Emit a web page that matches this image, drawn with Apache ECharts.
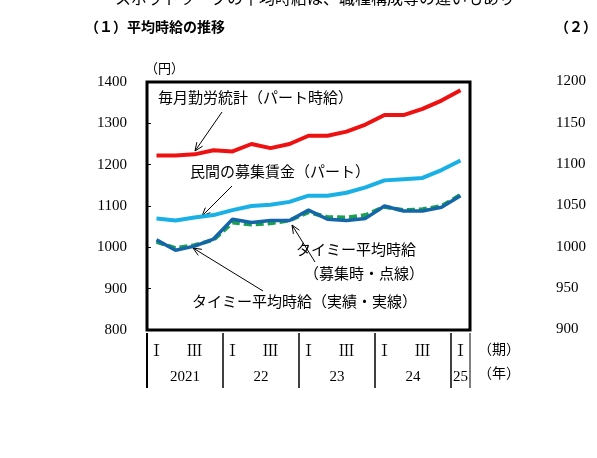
<!DOCTYPE html><html><head><meta charset="utf-8"><script src="https://cdn.jsdelivr.net/npm/echarts@6/dist/echarts.min.js"></script>
<style>body{margin:0;background:#fff}#c{width:597px;height:458px}</style></head><body><div id="c"></div><script>
const categories=['Ⅰ','Ⅱ','Ⅲ','Ⅳ','Ⅰ','Ⅱ','Ⅲ','Ⅳ','Ⅰ','Ⅱ','Ⅲ','Ⅳ','Ⅰ','Ⅱ','Ⅲ','Ⅳ','Ⅰ'];
const years=['2021','22','23','24','25'];
const yearStarts=[0,4,8,12,16];
const maikin=[1222,1222,1225,1235,1232,1250,1240,1250,1270,1270,1280,1297,1320,1320,1335,1355,1380];
const boshu=[1070,1065,1072,1078,1090,1100,1103,1110,1125,1125,1132,1145,1162,1165,1168,1187,1210];
const timeeJisseki=[1018,993,1003,1020,1068,1060,1065,1065,1090,1068,1065,1070,1100,1088,1088,1097,1125];
const timeeBoshu=[1013,998,1005,1018,1060,1055,1058,1065,1085,1073,1072,1078,1098,1090,1092,1100,1127];
const rightTicks=['1200','1150','1100','1050','1000','950','900'];
const F='"Noto Sans CJK JP"',S='"Liberation Serif","Noto Serif CJK JP",serif';
const ch=echarts.init(document.getElementById('c'));
const g=[];
g.push({type:'text',left:115,top:-10,style:{text:'スポットワークの平均時給は、職種構成等の違いもあり',font:'16px '+F,fill:'#000'}});
g.push({type:'text',left:85,top:20,style:{text:'（１）平均時給の推移',font:'bold 14px '+F,fill:'#000'}});
g.push({type:'text',left:555,top:20,style:{text:'（２）',font:'bold 14px '+F,fill:'#000'}});
g.push({type:'text',left:145,top:62,style:{text:'（円）',font:'13px '+F,fill:'#000'}});
rightTicks.forEach((t,i)=>g.push({type:'text',left:556,top:74+i*41.3,style:{text:t,font:'15px '+S,fill:'#000'}}));
const ann=[[158,90,'毎月勤労統計（パート時給）'],[190,164,'民間の募集賃金（パート）'],[296,242,'タイミー平均時給'],[304,266,'（募集時・点線）'],[192,294,'タイミー平均時給（実績・実線）']];
ann.forEach(a=>g.push({type:'text',left:a[0],top:a[1],style:{text:a[2],font:'15px '+F,fill:'#000'}}));
const arrows=[[222,112,195,151],[232,186,202,216],[315,262,292,225],[263,291,193,248]];
arrows.forEach(a=>{g.push({type:'line',shape:{x1:a[0],y1:a[1],x2:a[2],y2:a[3]},style:{stroke:'#000',lineWidth:1}});
 const ang=Math.atan2(a[3]-a[1],a[2]-a[0]),L=9;
 [0.4,-0.4].forEach(d=>g.push({type:'line',shape:{x1:a[2],y1:a[3],x2:a[2]-L*Math.cos(ang+d),y2:a[3]-L*Math.sin(ang+d)},style:{stroke:'#000',lineWidth:1}}));});
g.push({type:'text',left:478,top:342,style:{text:'（期）',font:'14px '+F,fill:'#000'}});
g.push({type:'text',left:478,top:366,style:{text:'（年）',font:'14px '+F,fill:'#000'}});
const ls=(c,w,t)=>({type:'line',data:null,symbol:'none',lineStyle:{color:c,width:w,type:t||'solid'},silent:true});
const s=[Object.assign(ls('#ee1111',4),{data:maikin}),Object.assign(ls('#19b0e6',4),{data:boshu}),Object.assign(ls('#1aa050',4,[8,4]),{data:timeeBoshu}),Object.assign(ls('#1566a8',3.5),{data:timeeJisseki})];
ch.setOption({animation:false,grid:{left:147,top:82,right:127,bottom:128,show:true,borderColor:'#000',borderWidth:3,backgroundColor:'transparent'},
xAxis:{type:'category',data:categories,boundaryGap:true,axisLine:{show:false},axisTick:{show:false},axisLabel:{margin:14,fontSize:16,fontFamily:S,color:'#000'}},
yAxis:{type:'value',min:800,max:1400,interval:100,splitLine:{show:false},axisLine:{show:false},axisTick:{show:true,inside:true,length:4,lineStyle:{color:'#000'}},axisLabel:{fontSize:15,fontFamily:S,color:'#000',margin:20,formatter:v=>String(v)}},
series:s,graphic:g});
const y0=333,y1=388;
const ex=[];
yearStarts.forEach((st,i)=>{const xa=ch.convertToPixel({xAxisIndex:0},st)-9.5;const end=i<yearStarts.length-1?yearStarts[i+1]:categories.length;const xb=ch.convertToPixel({xAxisIndex:0},end-1)+9.5;
 ex.push({type:'line',shape:{x1:xa,y1:y0,x2:xa,y2:y1},style:{stroke:'#000',lineWidth:i==0?2:1.5}});
 ex.push({type:'text',x:(xa+xb)/2,y:370,style:{text:years[i],font:'15px '+S,fill:'#000',align:'center'}});
 if(i==yearStarts.length-1)ex.push({type:'line',shape:{x1:xb,y1:y0,x2:xb,y2:y1},style:{stroke:'#000',lineWidth:1}});});
ch.setOption({graphic:g.concat(ex)});
</script></body></html>
